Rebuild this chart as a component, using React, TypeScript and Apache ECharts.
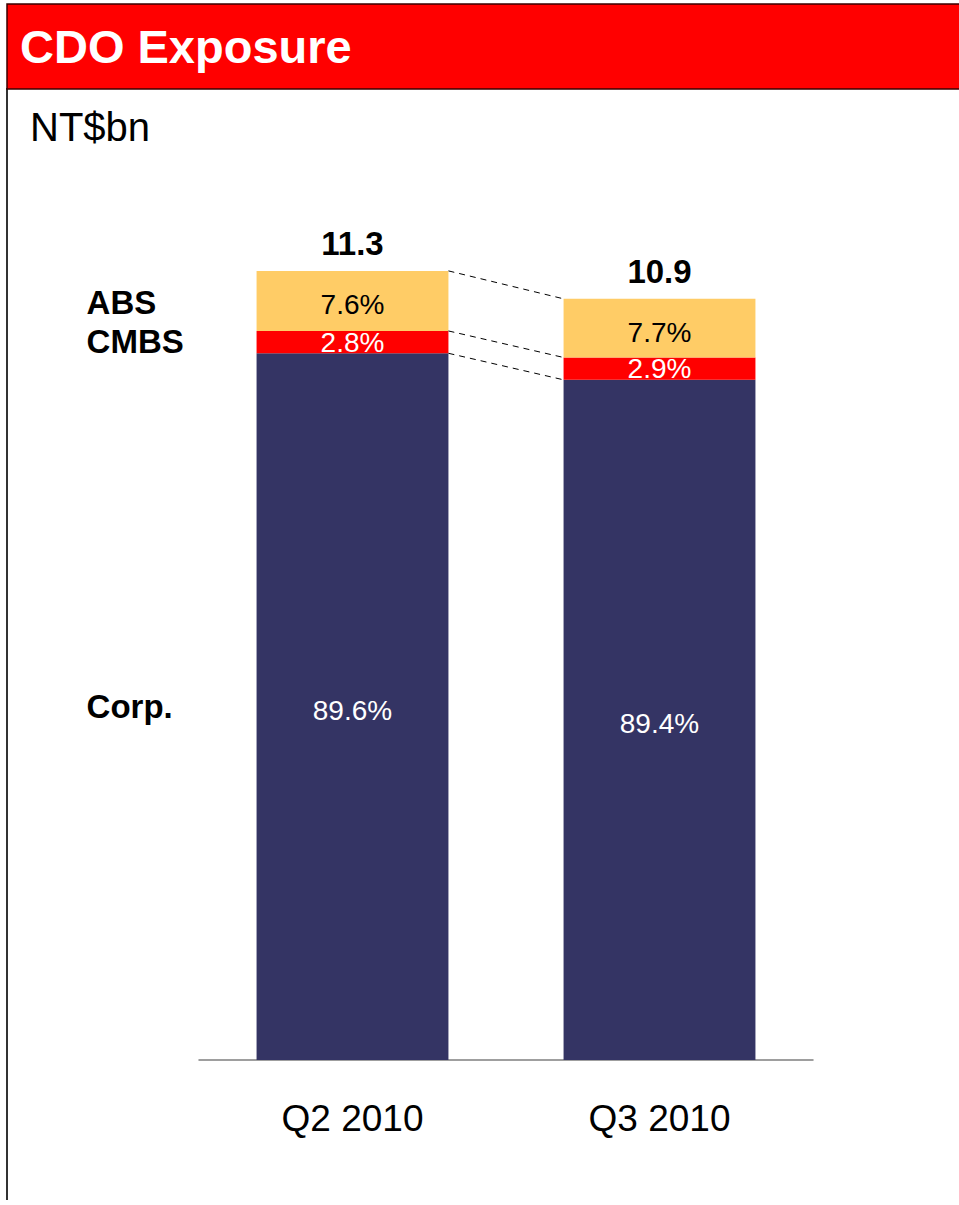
import React, { useEffect, useRef } from "react";
import * as echarts from "echarts";

const categories = ["Q2 2010", "Q3 2010"];
const corpValues = [10.12, 9.74];
const cmbsValues = [0.32, 0.32];
const absValues = [0.86, 0.84];
const totals = [11.3, 10.9];
const corpPct = ["89.6%", "89.4%"];
const cmbsPct = ["2.8%", "2.9%"];
const absPct = ["7.6%", "7.7%"];
const segmentNames = ["Corp.", "CMBS", "ABS"];
const yMax = 12;

const FONT = "'Liberation Sans', Arial, Helvetica, sans-serif";
const NAVY = "#343464";
const RED = "#FF0000";
const GOLD = "#FFCC66";

export default function App() {
  const ref = useRef<HTMLDivElement>(null);

  useEffect(() => {
    if (!ref.current) return;
    const chart = echarts.init(ref.current, null, { renderer: "svg" });

    const boundaries = categories.map((_, i) => [
      corpValues[i],
      corpValues[i] + cmbsValues[i],
      corpValues[i] + cmbsValues[i] + absValues[i],
    ]);
    const connectorData = [0, 1, 2].map((k) => [0, boundaries[0][k], boundaries[1][k]]);
    const sideMids = [
      corpValues[0] / 2,
      corpValues[0] + cmbsValues[0] / 2,
      corpValues[0] + cmbsValues[0] + absValues[0] / 2,
    ];
    const sideOffsets = [0, -1, 2];
    const barRatio = 0.625;

    const option: any = {
      animation: false,
      textStyle: { fontFamily: FONT },
      grid: { left: 199, right: 146, top: 222, bottom: 145, containLabel: false },
      xAxis: {
        type: "category",
        data: categories,
        axisLine: { show: true, lineStyle: { color: "#7f7f7f", width: 1.5 } },
        axisTick: { show: false },
        axisLabel: { color: "#000", fontSize: 37, fontFamily: FONT, margin: 40 },
      },
      yAxis: {
        type: "value",
        min: 0,
        max: yMax,
        show: false,
        splitLine: { show: false },
      },
      graphic: [
        {
          type: "rect",
          shape: { x: 7, y: 4, width: 960, height: 85 },
          style: { fill: RED, stroke: "#3a0000", lineWidth: 1.5 },
          z: 10,
        },
        {
          type: "text",
          x: 20,
          y: 46,
          style: {
            text: "CDO Exposure",
            fill: "#fff",
            font: `bold 47px ${FONT}`,
            textAlign: "left",
            align: "left",
            textVerticalAlign: "middle",
            verticalAlign: "middle",
          },
          z: 11,
        },
        {
          type: "text",
          x: 30,
          y: 127,
          style: {
            text: "NT$bn",
            fill: "#000",
            font: `40px ${FONT}`,
            textAlign: "left",
            align: "left",
            textVerticalAlign: "middle",
            verticalAlign: "middle",
          },
        },
        {
          type: "line",
          shape: { x1: 7, y1: 88, x2: 7, y2: 1200 },
          style: { stroke: "#333", lineWidth: 2 },
        },
      ],
      series: [
        {
          name: "Corp.",
          type: "bar",
          stack: "total",
          barWidth: "62.5%",
          data: corpValues,
          itemStyle: { color: NAVY },
          label: {
            show: true,
            position: "inside",
            formatter: (p: any) => corpPct[p.dataIndex],
            color: "#fff",
            fontSize: 28,
            fontFamily: FONT,
            offset: [0, 4],
          },
        },
        {
          name: "CMBS",
          type: "bar",
          stack: "total",
          data: cmbsValues,
          itemStyle: { color: RED },
          label: {
            show: true,
            position: "inside",
            formatter: (p: any) => cmbsPct[p.dataIndex],
            color: "#fff",
            fontSize: 28,
            fontFamily: FONT,
            offset: [0, 0],
          },
        },
        {
          name: "ABS",
          type: "bar",
          stack: "total",
          data: absValues,
          itemStyle: { color: GOLD },
          label: {
            show: true,
            position: "inside",
            formatter: (p: any) => absPct[p.dataIndex],
            color: "#000",
            fontSize: 28,
            fontFamily: FONT,
            offset: [0, 4],
          },
        },
        {
          name: "connectors",
          type: "custom",
          silent: true,
          encode: { x: 0, y: [1, 2] },
          data: connectorData,
          renderItem: (params: any, api: any) => {
            const p1 = api.coord([0, api.value(1)]);
            const p2 = api.coord([1, api.value(2)]);
            const bw = api.size([1, 0])[0] * barRatio;
            return {
              type: "line",
              shape: { x1: p1[0] + bw / 2, y1: p1[1], x2: p2[0] - bw / 2, y2: p2[1] },
              style: { stroke: "#000", lineWidth: 1, lineDash: [6, 5] },
            };
          },
          z: 5,
        },
        {
          name: "totals",
          type: "custom",
          silent: true,
          encode: { x: 0, y: 1 },
          data: totals.map((t, i) => [i, t]),
          renderItem: (params: any, api: any) => {
            const p = api.coord([api.value(0), api.value(1)]);
            return {
              type: "text",
              x: p[0],
              y: p[1] - 27,
              style: {
                text: totals[params.dataIndex].toFixed(1),
                fill: "#000",
                font: `bold 33px ${FONT}`,
                textAlign: "center",
                align: "center",
                textVerticalAlign: "middle",
                verticalAlign: "middle",
              },
            };
          },
          z: 5,
        },
        {
          name: "sideLabels",
          type: "custom",
          silent: true,
          encode: { x: 0, y: 1 },
          data: sideMids.map((m) => [0, m]),
          renderItem: (params: any, api: any) => {
            const p = api.coord([0, api.value(1)]);
            const bw = api.size([1, 0])[0] * barRatio;
            return {
              type: "text",
              x: p[0] - bw / 2 - 170,
              y: p[1] + sideOffsets[params.dataIndex],
              style: {
                text: segmentNames[params.dataIndex],
                fill: "#000",
                font: `bold 33px ${FONT}`,
                textAlign: "left",
                align: "left",
                textVerticalAlign: "middle",
                verticalAlign: "middle",
              },
            };
          },
          z: 5,
        },
      ],
    };

    chart.setOption(option);
    return () => chart.dispose();
  }, []);

  return (
    <div
      ref={ref}
      style={{ position: "fixed", left: 0, top: 0, width: 959, height: 1205, background: "#fff" }}
    />
  );
}
